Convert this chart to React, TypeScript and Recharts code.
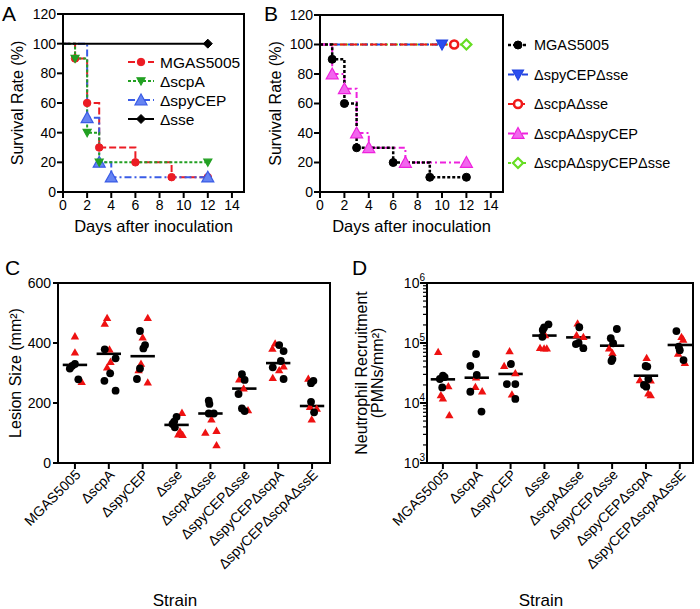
import React from 'react';
import {
  LineChart,
  Line,
  ScatterChart,
  Scatter,
  XAxis,
  YAxis,
  ReferenceLine,
  ReferenceArea,
  Legend,
} from 'recharts';

const FONT = '"Liberation Sans", Arial, Helvetica, sans-serif';

// ---------- survival curves (A, B) : [day, percent surviving]
const dayTicks = [0, 2, 4, 6, 8, 10, 12, 14];
const survivalTicks = [0, 20, 40, 60, 80, 100, 120];

const aMGAS5005 = [[0, 100], [1, 90], [2, 60], [3, 30], [6, 20], [9, 10], [12, 10]];
const aScpA = [[0, 100], [1, 90], [2, 40], [3, 20], [12, 20]];
const aSpyCEP = [[0, 100], [2, 50], [3, 20], [4, 10], [12, 10]];
const aSse = [[0, 100], [12, 100]];

const bMGAS5005 = [[0, 100], [1, 90], [2, 60], [3, 30], [6, 20], [9, 10], [12, 10]];
const bSpyCEPSse = [[0, 100], [10, 100]];
const bScpASse = [[0, 100], [11, 100]];
const bScpASpyCEP = [[0, 100], [1, 80], [2, 70], [3, 40], [4, 30], [7, 20], [12, 20]];
const bScpASpyCEPSse = [[0, 100], [12, 100]];

// ---------- strain scatter plots (C, D) : [strain index, jitter, value]
const strains = [
  'MGAS5005',
  'ΔscpA',
  'ΔspyCEP',
  'Δsse',
  'ΔscpAΔsse',
  'ΔspyCEPΔsse',
  'ΔspyCEPΔscpA',
  'ΔspyCEPΔscpAΔssE',
];

const lesionTicks = [0, 200, 400, 600];
const lesionBlack = [
  [0, -0.15, 315], [0, 0, 330], [0, -0.08, 324], [0, 0.1, 279],
  [1, -0.12, 379], [1, 0.2, 349], [1, 0.04, 299], [1, -0.13, 274], [1, 0.2, 241],
  [2, -0.08, 440], [2, 0.07, 393], [2, 0.02, 382], [2, -0.08, 315], [2, -0.17, 280],
  [3, 0, 154], [3, -0.07, 138], [3, -0.12, 130], [3, -0.05, 119],
  [4, -0.05, 208], [4, -0.03, 197], [4, -0.05, 165], [4, 0.1, 165],
  [5, -0.07, 296], [5, 0.01, 277], [5, -0.17, 230], [5, -0.07, 182], [5, 0.01, 173],
  [6, 0.03, 393], [6, 0.16, 373], [6, 0.08, 340], [6, -0.16, 319], [6, 0.16, 280],
  [7, 0.04, 274], [7, -0.03, 266], [7, -0.03, 204], [7, 0.06, 169],
];
const lesionRed = [
  [0, 0, 423], [0, 0, 369], [0, -0.15, 322], [0, 0.2, 271],
  [1, -0.05, 484], [1, -0.12, 465], [1, 0.02, 379], [1, -0.05, 319], [1, 0.05, 338],
  [2, 0.15, 484], [2, 0, 419], [2, -0.05, 332], [2, -0.12, 310], [2, 0.15, 269],
  [3, 0.16, 168], [3, 0.05, 96], [3, 0.18, 94], [3, 0.1, 106],
  [4, 0.03, 146], [4, -0.15, 102], [4, 0.18, 108], [4, 0.18, 60],
  [5, -0.15, 279], [5, -0.02, 249], [5, 0.11, 177],
  [6, -0.09, 399], [6, -0.17, 382], [6, 0.16, 323], [6, 0.03, 310], [6, -0.16, 284],
  [7, -0.11, 282], [7, -0.06, 188], [7, 0.14, 182], [7, -0.01, 146],
];
const lesionMedians = [327, 364, 356, 127, 165, 248, 333, 190];

const neutroDecades = [1e3, 1e4, 1e5, 1e6];
const neutroBlack = [
  [0, 0, 28500], [0, -0.09, 25100], [0, -0.02, 18200], [0, 0.05, 27000],
  [1, -0.02, 65600], [1, -0.19, 41400], [1, 0, 29300], [1, -0.19, 15400], [1, 0.14, 7200],
  [2, 0.01, 44700], [2, -0.11, 20700], [2, 0.14, 20700], [2, 0.14, 11700],
  [3, 0.12, 205000], [3, -0.01, 182000], [3, -0.05, 165000], [3, -0.06, 127000],
  [4, 0.03, 183000], [4, 0.01, 100000], [4, -0.07, 96000], [4, 0.15, 82000],
  [5, 0.14, 171000], [5, -0.04, 120000], [5, 0.03, 99000], [5, 0.01, 54000], [5, -0.02, 50000],
  [6, -0.01, 41400], [6, 0.04, 40500], [6, 0.07, 25100], [6, -0.06, 20000], [6, 0.01, 18700],
  [7, -0.1, 158000], [7, -0.03, 87000], [7, 0, 76000], [7, 0.11, 52000],
];
const neutroRed = [
  [0, -0.14, 71600], [0, 0.16, 19200], [0, -0.06, 13600], [0, 0, 12000], [0, 0.19, 6300],
  [1, -0.02, 27000], [1, -0.04, 18700], [1, 0.16, 15800],
  [2, -0.03, 73500], [2, -0.19, 41800], [2, 0.14, 31600], [2, 0.04, 14000],
  [3, 0.02, 136000], [3, -0.13, 83500], [3, -0.01, 82000], [3, 0.07, 82000],
  [4, -0.02, 213000], [4, -0.05, 136000], [4, 0.15, 127000],
  [5, -0.09, 82000], [5, 0.01, 69000],
  [6, 0.02, 56900], [6, -0.18, 24200], [6, 0.14, 24000], [6, 0.07, 14500], [6, 0.14, 13600],
  [7, 0.05, 127000], [7, 0.1, 115000], [7, -0.05, 67000], [7, 0.15, 47000],
];
const neutroMedians = [24800, 26400, 30500, 133000, 124000, 90200, 28500, 92700];

// log axis ticks: each decade plus its 2..9 minor ticks
const neutroTicks: number[] = [];
neutroDecades.forEach((d, i) => {
  neutroTicks.push(d);
  if (i < neutroDecades.length - 1) for (let k = 2; k <= 9; k++) neutroTicks.push(d * k);
});

type MarkerKind = 'circle' | 'ring' | 'up' | 'down' | 'diamond' | 'openDiamond';

interface KMSeries {
  name: string;
  points: number[][];
  color: string;
  fill: string;
  dash?: string;
  width: number;
  marker: MarkerKind;
  size: number;
}

function Marker({ kind, cx, cy, size, color, fill }: { kind: MarkerKind; cx: number; cy: number; size: number; color: string; fill: string }) {
  const h = size / 2;
  switch (kind) {
    case 'circle':
      return <circle cx={cx} cy={cy} r={h} fill={fill} stroke={color} strokeWidth={1} />;
    case 'ring':
      return <circle cx={cx} cy={cy} r={h} fill="#fff" stroke={color} strokeWidth={2.6} />;
    case 'up':
      return <polygon points={`${cx},${cy - h} ${cx - h},${cy + h * 0.8} ${cx + h},${cy + h * 0.8}`} fill={fill} stroke={color} strokeWidth={1.2} />;
    case 'down':
      return <polygon points={`${cx},${cy + h} ${cx - h},${cy - h * 0.8} ${cx + h},${cy - h * 0.8}`} fill={fill} stroke={color} strokeWidth={1.2} />;
    case 'diamond':
      return <polygon points={`${cx},${cy - h} ${cx + h},${cy} ${cx},${cy + h} ${cx - h},${cy}`} fill={fill} stroke={color} strokeWidth={1} />;
    default:
      return <polygon points={`${cx},${cy - h} ${cx + h},${cy} ${cx},${cy + h} ${cx - h},${cy}`} fill="#fff" stroke={color} strokeWidth={2.2} />;
  }
}

const seriesA: KMSeries[] = [
  { name: 'MGAS5005', points: aMGAS5005, color: '#ec1c24', fill: '#ec1c24', dash: '7 3', width: 2, marker: 'circle', size: 7.5 },
  { name: 'ΔscpA', points: aScpA, color: '#22a022', fill: '#22a022', dash: '3 2', width: 2, marker: 'down', size: 8 },
  { name: 'ΔspyCEP', points: aSpyCEP, color: '#3a5ce6', fill: '#6684f2', dash: '7 3 2 3', width: 2, marker: 'up', size: 12 },
  { name: 'Δsse', points: aSse, color: '#000', fill: '#000', width: 2, marker: 'diamond', size: 9 },
];

const seriesB: KMSeries[] = [
  { name: 'MGAS5005', points: bMGAS5005, color: '#000', fill: '#000', dash: '3 2', width: 2.5, marker: 'circle', size: 8 },
  { name: 'ΔspyCEPΔsse', points: bSpyCEPSse, color: '#2244e0', fill: '#2a4ef0', dash: '6 3 2 3', width: 2, marker: 'down', size: 11 },
  { name: 'ΔscpAΔsse', points: bScpASse, color: '#f01a1a', fill: '#f01a1a', dash: '7 3', width: 2, marker: 'ring', size: 8 },
  { name: 'ΔscpAΔspyCEP', points: bScpASpyCEP, color: '#ee22dd', fill: '#f266ee', dash: '6 3 2 3', width: 2, marker: 'up', size: 12 },
  { name: 'ΔscpAΔspyCEPΔsse', points: bScpASpyCEPSse, color: '#66dd22', fill: '#fff', dash: '3 2', width: 2, marker: 'openDiamond', size: 10 },
];

const tickStyle = { fill: '#000', fontSize: 14, fontFamily: FONT };
const axisStroke = { stroke: '#000', strokeWidth: 2 };

const yTitle = (lines: string[], xs: number[], size: number) => (props: any) => {
  const vb = props.viewBox || {};
  const cy = (vb.y || 0) + (vb.height || 0) / 2;
  return (
    <g>
      {lines.map((t, i) => {
        const cx = (vb.x || 0) + xs[i];
        return (
          <text key={t} x={cx} y={cy} transform={`rotate(-90 ${cx} ${cy})`} textAnchor="middle" dominantBaseline="central" fontSize={size} fontFamily={FONT} fill="#000">
            {t}
          </text>
        );
      })}
    </g>
  );
};

const xTitle = (text: string, dx: number, baseline: number, size: number) => (props: any) => {
  const vb = props.viewBox || {};
  return (
    <text x={(vb.x || 0) + (vb.width || 0) / 2 + dx} y={(vb.y || 0) + baseline} textAnchor="middle" fontSize={size} fontFamily={FONT} fill="#000">
      {text}
    </text>
  );
};

function KMLegend({ items, gap, font, line }: { items: KMSeries[]; gap: number; font: number; line: number }) {
  return (
    <svg width={190} height={items.length * gap + 12} style={{ overflow: 'visible', display: 'block' }}>
      {items.map((s, i) => {
        const y = 10 + i * gap;
        return (
          <g key={s.name}>
            <line x1={0} x2={line} y1={y} y2={y} stroke={s.color} strokeWidth={s.width} strokeDasharray={s.dash} />
            <Marker kind={s.marker} cx={line / 2} cy={y} size={s.size} color={s.color} fill={s.fill} />
            <text x={line + 6} y={y} dominantBaseline="central" fontSize={font} fontFamily={FONT} fill="#000">
              {s.name}
            </text>
          </g>
        );
      })}
    </svg>
  );
}

function SurvivalPanel({
  left, width, marginRight, yAxisWidth, plotTop, titleX, series, drawOrder, legendPos, legendGap, legendFont, legendLine,
}: {
  left: number; width: number; marginRight: number; yAxisWidth: number; plotTop: number; titleX: number;
  series: KMSeries[]; drawOrder: number[]; legendPos: { left: number; top: number }; legendGap: number; legendFont: number; legendLine: number;
}) {
  const height = 240;
  const plotBottom = 192;
  return (
    <div style={{ position: 'absolute', left, top: 0 }}>
      <LineChart width={width} height={height} margin={{ top: plotTop, right: marginRight, bottom: 0, left: 0 }}>
        <XAxis
          type="number"
          dataKey="day"
          domain={[0, 15]}
          ticks={dayTicks}
          interval={0}
          height={height - plotBottom}
          tick={tickStyle}
          tickSize={6}
          tickMargin={2}
          axisLine={axisStroke}
          tickLine={axisStroke}
          label={xTitle('Days after inoculation', 0, 40, 16.5)}
        />
        <YAxis
          type="number"
          dataKey="pct"
          domain={[0, 120]}
          ticks={survivalTicks}
          interval={0}
          width={yAxisWidth}
          tick={tickStyle}
          tickSize={6}
          tickMargin={1}
          axisLine={axisStroke}
          tickLine={axisStroke}
          label={yTitle(['Survival Rate (%)'], [titleX], 16)}
        />
        <ReferenceArea x1={0} x2={15} y1={0} y2={120} fill="none" stroke="#000" strokeWidth={2} />
        {drawOrder.map((k) => {
          const s = series[k];
          return (
            <Line
              key={s.name}
              data={s.points.map(([day, pct]) => ({ day, pct }))}
              dataKey="pct"
              type="stepAfter"
              stroke={s.color}
              strokeWidth={s.width}
              strokeDasharray={s.dash}
              isAnimationActive={false}
              activeDot={false}
              dot={(p: any) => {
                if (p.index === 0 || p.cx == null) return <g key={`${s.name}-${p.index}`} />;
                return <Marker key={`${s.name}-${p.index}`} kind={s.marker} cx={p.cx} cy={p.cy} size={s.size} color={s.color} fill={s.fill} />;
              }}
            />
          );
        })}
        <Legend
          layout="vertical"
          align="center"
          verticalAlign="middle"
          wrapperStyle={{ left: legendPos.left, top: legendPos.top, width: 190 }}
          content={() => <KMLegend items={series} gap={legendGap} font={legendFont} line={legendLine} />}
        />
      </LineChart>
    </div>
  );
}

function StrainTick({ x, y, payload }: any) {
  const ax = x + 3;
  return (
    <text x={ax} y={y} dy={5} transform={`rotate(-45 ${ax} ${y})`} textAnchor="end" fontSize={14} fontFamily={FONT} fill="#000">
      {strains[payload.value]}
    </text>
  );
}

const D_AXIS_X = 77;
function LogTick({ y, payload }: any) {
  const v = payload.value;
  const e = Math.log10(v);
  const major = Math.abs(e - Math.round(e)) < 1e-6;
  return (
    <g>
      <line x1={D_AXIS_X} x2={D_AXIS_X - (major ? 7 : 4)} y1={y} y2={y} stroke="#000" strokeWidth={major ? 2 : 1.2} />
      {major && (
        <text x={D_AXIS_X - 2} y={y} dy={5} textAnchor="end" fontSize={14} fontFamily={FONT} fill="#000">
          10<tspan dy={-7} fontSize={10}>{Math.round(e)}</tspan>
        </text>
      )}
    </g>
  );
}

const toPts = (rows: number[][]) => rows.map(([s, j, v]) => ({ x: s + j, y: v }));
const dotShape = (p: any) => <circle cx={p.cx} cy={p.cy} r={3.9} fill="#000" />;
const triShape = (p: any) => (
  <polygon points={`${p.cx},${p.cy - 4} ${p.cx - 4.2},${p.cy + 3.3} ${p.cx + 4.2},${p.cy + 3.3}`} fill="#ee1111" />
);

function StrainPanel({
  left, yAxisWidth, marginRight, xDomain, yAxis, black, red, medians, titleLines, titleXs, yDomain,
}: {
  left: number; yAxisWidth: number; marginRight: number; xDomain: number[]; yAxis: any; black: number[][]; red: number[][];
  medians: number[]; titleLines: string[]; titleXs: number[]; yDomain: number[];
}) {
  const width = 350;
  const height = 369;
  const half = 0.36;
  return (
    <div style={{ position: 'absolute', left, top: 240 }}>
      <ScatterChart width={width} height={height} margin={{ top: 43, right: marginRight, bottom: 0, left: 0 }}>
        <XAxis
          type="number"
          dataKey="x"
          domain={xDomain}
          ticks={strains.map((_, i) => i)}
          interval={0}
          allowDataOverflow
          height={146}
          tick={<StrainTick />}
          tickSize={6}
          tickMargin={3}
          axisLine={axisStroke}
          tickLine={axisStroke}
          label={xTitle('Strain', -19, 143, 17)}
        />
        <YAxis dataKey="y" width={yAxisWidth} domain={yDomain} allowDataOverflow interval={0} {...yAxis} label={yTitle(titleLines, titleXs, 16)} />
        <ReferenceArea x1={xDomain[0]} x2={xDomain[1]} y1={yDomain[0]} y2={yDomain[1]} fill="none" stroke="#000" strokeWidth={2} />
        <Scatter data={toPts(red)} shape={triShape} isAnimationActive={false} />
        <Scatter data={toPts(black)} shape={dotShape} isAnimationActive={false} />
        {medians.map((m, i) => (
          <ReferenceLine key={i} segment={[{ x: i - half, y: m }, { x: i + half, y: m }]} stroke="#000" strokeWidth={2.6} />
        ))}
      </ScatterChart>
    </div>
  );
}

export default function App() {
  return (
    <div style={{ position: 'absolute', left: 0, top: 0, width: 700, height: 609, background: '#fff', fontFamily: FONT }}>
      <SurvivalPanel
        left={0}
        width={255}
        marginRight={11}
        yAxisWidth={63}
        plotTop={14}
        titleX={17}
        series={seriesA}
        drawOrder={[0, 2, 1, 3]}
        legendPos={{ left: 128, top: 52 }}
        legendGap={19}
        legendFont={15.5}
        legendLine={26}
      />
      <SurvivalPanel
        left={255}
        width={445}
        marginRight={197}
        yAxisWidth={65}
        plotTop={15}
        titleX={20}
        series={seriesB}
        drawOrder={[4, 1, 2, 3, 0]}
        legendPos={{ left: 253, top: 35 }}
        legendGap={29.5}
        legendFont={14.5}
        legendLine={20}
      />
      <StrainPanel
        left={0}
        yAxisWidth={58}
        marginRight={20}
        xDomain={[-0.5, 7.53]}
        yDomain={[0, 600]}
        yAxis={{ type: 'number', ticks: lesionTicks, tick: tickStyle, tickSize: 5, tickMargin: 2, axisLine: axisStroke, tickLine: axisStroke }}
        black={lesionBlack}
        red={lesionRed}
        medians={lesionMedians}
        titleLines={['Lesion Size (mm²)']}
        titleXs={[15]}
      />
      <StrainPanel
        left={350}
        yAxisWidth={77}
        marginRight={7}
        xDomain={[-0.47, 7.39]}
        yDomain={[1e3, 1e6]}
        yAxis={{ type: 'number', scale: 'log', ticks: neutroTicks, tick: <LogTick />, tickLine: false, axisLine: axisStroke }}
        black={neutroBlack}
        red={neutroRed}
        medians={neutroMedians}
        titleLines={['Neutrophil Recruitment', '(PMNs/mm²)']}
        titleXs={[11, 27]}
      />
      <svg width={700} height={609} style={{ position: 'absolute', left: 0, top: 0, pointerEvents: 'none' }}>
        <text x={2} y={21} fontSize={21} fontFamily={FONT}>A</text>
        <text x={264} y={21} fontSize={21} fontFamily={FONT}>B</text>
        <text x={5} y={275} fontSize={21} fontFamily={FONT}>C</text>
        <text x={352} y={275} fontSize={21} fontFamily={FONT}>D</text>
      </svg>
    </div>
  );
}
